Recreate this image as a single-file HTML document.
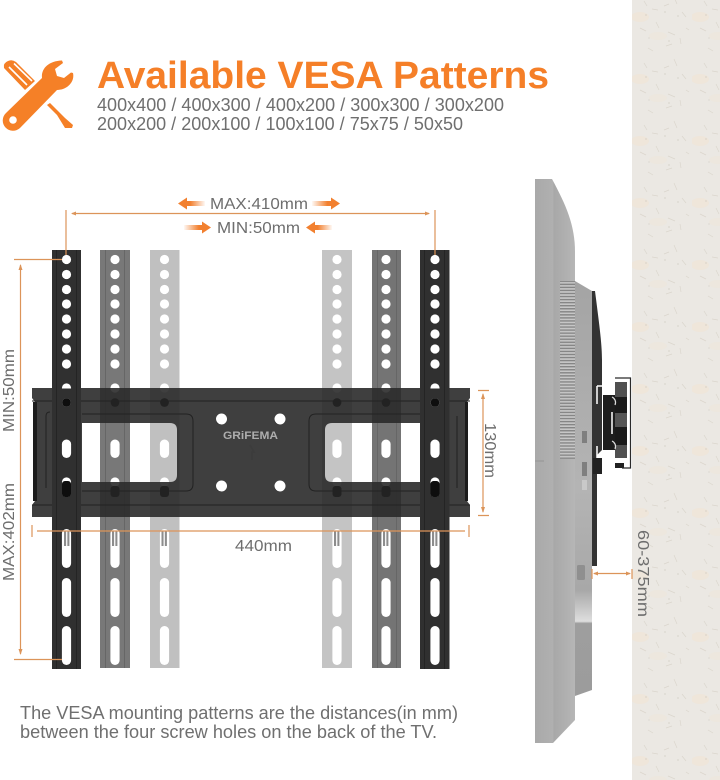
<!DOCTYPE html>
<html><head><meta charset="utf-8"><title>Available VESA Patterns</title>
<style>html,body{margin:0;padding:0;background:#fff}svg{display:block}text{font-family:"Liberation Sans",Arial,sans-serif}</style></head>
<body>
<svg width="720" height="780" viewBox="0 0 720 780" xmlns="http://www.w3.org/2000/svg">
<defs>
<pattern id="wall" width="60" height="62" patternUnits="userSpaceOnUse" x="632" y="180">
<rect width="60" height="62" fill="#ebe8e3"/>
<ellipse cx="8" cy="23" rx="9" ry="5" fill="#efe6da"/>
<ellipse cx="26" cy="42" rx="9" ry="4" fill="#ede7de"/>
<g stroke="#dbd6cd" stroke-width=".7" fill="none">
<path d="M12 7l3 5M20 15l6 1M32 12l5-2M42 3l3 7M50 18l4 5M8 34l6 3M24 28l3 6M36 38l7 3M48 44l1 6M16 54l5 3M34 52l6-2M54 34l3 2"/>
</g>
<g fill="#c9c4ba"><circle cx="14" cy="21" r=".6"/><circle cx="33" cy="18" r=".6"/><circle cx="46" cy="22" r=".6"/><circle cx="37" cy="47" r=".6"/><circle cx="17" cy="44" r=".5"/></g>
</pattern>
<linearGradient id="arL" x1="0" x2="1"><stop offset="0" stop-color="#f2802f"/><stop offset=".45" stop-color="#f2802f"/><stop offset="1" stop-color="#f2802f" stop-opacity=".05"/></linearGradient>
<linearGradient id="arR" x1="1" x2="0"><stop offset="0" stop-color="#f2802f"/><stop offset=".45" stop-color="#f2802f"/><stop offset="1" stop-color="#f2802f" stop-opacity=".05"/></linearGradient>
<linearGradient id="tvb" x1="0" x2="1"><stop offset="0" stop-color="#a9a9a9"/><stop offset=".45" stop-color="#b0b0b0"/><stop offset=".47" stop-color="#a8a8a8"/><stop offset="1" stop-color="#b6b6b6"/></linearGradient>
<linearGradient id="tvs" x1="0" x2="0" y1="0" y2="1"><stop offset="0" stop-color="#a4a4a4"/><stop offset=".5" stop-color="#b4b4b4"/><stop offset=".745" stop-color="#a8a8a8"/><stop offset=".82" stop-color="#dedede"/><stop offset=".825" stop-color="#9e9e9e"/><stop offset="1" stop-color="#9c9c9c"/></linearGradient>
<pattern id="vent" width="4" height="3.05" patternUnits="userSpaceOnUse"><rect width="4" height="3.05" fill="#c6c6c6"/><rect width="4" height="1.4" fill="#868686"/></pattern>
<g id="holes">
<circle cy="259.5" r="4.6"/><circle cy="274.5" r="4.6"/><circle cy="289.5" r="4.6"/><circle cy="304" r="4.6"/><circle cy="319" r="4.6"/><circle cy="334" r="4.6"/><circle cy="349" r="4.6"/><circle cy="364" r="4.6"/>
<circle cy="388" r="4.6"/><circle cy="402.5" r="4.4"/>
<rect x="-4.6" y="439.5" width="9.2" height="18.5" rx="4.6"/>
<circle cy="482" r="4.6"/><rect x="-4.4" y="486" width="8.8" height="11" rx="3"/>
<rect x="-4.6" y="529" width="9.2" height="39" rx="4.6"/>
<rect x="-4.6" y="578" width="9.2" height="39" rx="4.6"/>
<rect x="-4.6" y="626" width="9.2" height="39" rx="4.6"/>
</g>
<g id="screw"><rect x="-3" y="531" width="2" height="15" fill="#8d8d8d"/><rect x="-1" y="531" width="1.4" height="15" fill="#f4f4f4"/><rect x="0.4" y="531" width="2" height="15" fill="#8d8d8d"/></g>
</defs>

<rect width="720" height="780" fill="#fff"/>
<rect x="632" y="0" width="88" height="780" fill="url(#wall)"/>

<!-- tools icon -->
<g fill="#f58027">
<path d="M42 78 C41 69 48 61 62 60.500 L63 63 L55 69 L57 76 L64 78 L71 72.500 L73 73 C75 82 67 90 57 90 L20 128 A10 10 0 0 1 6 113 Z"/>
<path d="M4 68 Q3 63 8 61 Q12 59 16 62 L35 81 L25 90 Z"/>
<path d="M47 105 L50 103 L65 118 L73 125 L72 128 L65 128 L57 115 Z"/>
</g>
<circle cx="13" cy="120" r="3.800" fill="#fff"/>
<path d="M9 67 L27 85 M14 63.500 L32 81" stroke="#fff" stroke-width="1.600" fill="none"/>

<text x="97" y="88" font-size="38" font-weight="700" fill="#f57f28" textLength="452" lengthAdjust="spacingAndGlyphs">Available VESA Patterns</text>
<text x="97" y="111" font-size="18" fill="#6f6f6f" textLength="407">400x400 / 400x300 / 400x200 / 300x300 / 300x200</text>
<text x="97" y="130" font-size="18" fill="#6f6f6f" textLength="366">200x200 / 200x100 / 100x100 / 75x75 / 50x50</text>

<!-- back rails -->
<rect x="150" y="250" width="29.500" height="418" fill="#c0c0c0"/>
<rect x="322" y="250" width="30" height="418" fill="#c4c4c4"/>
<rect x="100" y="250" width="30" height="418" fill="#787878"/>
<rect x="372" y="250" width="29" height="418" fill="#747474"/>
<rect x="105" y="250" width="1" height="418" fill="#666"/><rect x="124" y="250" width="1" height="418" fill="#666"/>
<rect x="377" y="250" width="1" height="418" fill="#666"/><rect x="396" y="250" width="1" height="418" fill="#666"/>
<g fill="#fff"><use href="#holes" x="115"/><use href="#holes" x="164.500"/><use href="#holes" x="337"/><use href="#holes" x="386"/></g>
<use href="#screw" x="115"/><use href="#screw" x="164.500"/><use href="#screw" x="337"/><use href="#screw" x="386"/>

<!-- plate -->
<path fill-rule="evenodd" fill="#2a2a2a" fill-opacity=".9" d="M32 388 H470 V398 L467 402 V501 L470 505 V517 H32 V505 L35 501 V402 L32 398 Z M82 423 V482 H170 Q177 482 177 475 V430 Q177 423 170 423 Z M420 423 H332 Q325 423 325 430 V475 Q325 482 332 482 H420 Z"/>
<g fill="none" stroke="#222" stroke-width="1">
<path d="M32 401 H470 M32 505 H470"/>
<path d="M82 414 H186 Q193 414 193 421 V484 Q193 491 186 491 H82"/>
<path d="M420 414 H316 Q309 414 309 421 V484 Q309 491 316 491 H420"/>
<path d="M46 416 Q46 412 50 412 M46 416 V488"/>
<path d="M457 416 V488"/>
</g>
<rect x="33" y="402" width="4" height="99" fill="#1c1c1c"/><rect x="465" y="402" width="3" height="99" fill="#1c1c1c"/>
<g fill="#222"><circle cx="115" cy="402.500" r="4.400"/><circle cx="164.500" cy="402.500" r="4.400"/><circle cx="337" cy="402.500" r="4.400"/><circle cx="386" cy="402.500" r="4.400"/>
<rect x="110.500" y="486" width="9" height="11" rx="3"/><rect x="160" y="486" width="9" height="11" rx="3"/><rect x="332.500" y="486" width="9" height="11" rx="3"/><rect x="381.500" y="486" width="9" height="11" rx="3"/></g>

<!-- vesa holes -->
<g fill="#fff"><circle cx="221.500" cy="419" r="5.500"/><circle cx="280" cy="419" r="5.500"/><circle cx="221.500" cy="486" r="5.500"/><circle cx="280" cy="486" r="5.500"/></g>
<g fill="#111"><path d="M216 419 a5.500 5.500 0 0 0 5.500 5.500 a5 5 0 0 1 -5.500 -5.500z"/><path d="M274.500 419 a5.500 5.500 0 0 0 5.500 5.500 a5 5 0 0 1 -5.500 -5.500z"/><path d="M216 486 a5.500 5.500 0 0 0 5.500 5.500 a5 5 0 0 1 -5.500 -5.500z"/><path d="M274.500 486 a5.500 5.500 0 0 0 5.500 5.500 a5 5 0 0 1 -5.500 -5.500z"/></g>
<text x="223" y="439" font-size="11" font-weight="700" fill="#adadad" textLength="55" lengthAdjust="spacingAndGlyphs">GRiFEMA</text>
<path d="M250 445 L254 452 L252 452 L252 460" fill="none" stroke="#3c3c3c" stroke-width="1.500"/>

<!-- front rails -->
<rect x="52" y="250" width="29" height="419" fill="#303030"/>
<rect x="420" y="250" width="29.500" height="419" fill="#303030"/>
<rect x="56" y="250" width="1" height="419" fill="#242424"/><rect x="76" y="250" width="1" height="419" fill="#242424"/>
<rect x="424" y="250" width="1" height="419" fill="#242424"/><rect x="444" y="250" width="1" height="419" fill="#242424"/>
<g fill="#fff"><use href="#holes" x="66.500"/><use href="#holes" x="435"/></g>
<rect x="61" y="388.500" width="11" height="6" fill="#303030"/>
<rect x="429.500" y="388.500" width="11" height="6" fill="#303030"/>
<g fill="#0e0e0e"><circle cx="66.500" cy="402.500" r="4.400"/><circle cx="435" cy="402.500" r="4.400"/><rect x="62" y="481" width="9" height="16" rx="3"/><rect x="430.500" y="481" width="9" height="16" rx="3"/></g>
<use href="#screw" x="67"/><use href="#screw" x="435"/>

<!-- TV side -->
<path d="M575 281 L592 291 V690 L575 696 Z" fill="url(#tvs)"/>
<path d="M535 179 H552 C566 205 575 225 575 252 V720 L553 743 H535 Z" fill="url(#tvb)"/>
<rect x="535" y="460" width="9" height="2" fill="#a0a0a0"/>
<rect x="560" y="281" width="15" height="178" fill="url(#vent)"/>
<rect x="582" y="431" width="5" height="12" fill="#7f7f7f"/><rect x="582" y="462" width="5" height="14" fill="#7f7f7f"/><rect x="582" y="480" width="5" height="10" fill="#c9c9c9"/>
<rect x="577" y="565" width="8" height="15" rx="1.500" fill="#8f8f8f"/>
<!-- bracket -->
<path d="M592 291 H595 C600 330 602 345 602 360 V450 L597 455 V566 H592 Z" fill="#333"/>
<rect x="603" y="395" width="13" height="55" fill="#1d1d1d"/>
<path d="M597 386 H603 M597 386 V404 M597 446 V458 H603" fill="none" stroke="#fff" stroke-width="1.500"/>
<rect x="615" y="397" width="12" height="48" fill="#1a1a1a"/>
<rect x="615" y="382" width="12" height="15" fill="#505050"/>
<rect x="615" y="413" width="12" height="14" fill="#555"/>
<rect x="615" y="445" width="12" height="13" fill="#505050"/>
<rect x="615" y="463" width="9" height="5" fill="#222"/>
<path d="M615 378 H630.500 V468 H622" fill="none" stroke="#2a2a2a" stroke-width="1.200"/>
<path d="M612 412 V434" fill="none" stroke="#fff" stroke-width="1.500"/>
<rect x="593" y="458" width="9" height="16" fill="#222"/>
<path d="M612 397 a6 6 0 0 1 3 8 M612 441 a6 6 0 0 1 3 8" fill="none" stroke="#ddd" stroke-width="1.200"/>

<!-- dimensions -->
<g stroke="#dc9459" stroke-width="1.200" fill="none">
<path d="M66 210 V255 M435 210 V255 M72 213.500 H429"/>
<path d="M14 259.500 H62 M14 659.500 H62 M20.500 265 V654"/>
<path d="M32 525 V537 M37 531 H465 M469 525 V537"/>
<path d="M478 390.500 H489 M478 515.500 H489 M483 394 V512"/>
<path d="M592 569 V579 M632 569 V579 M594 573.500 H630"/>
</g>
<g fill="#dc9459">
<path d="M71 213.500 L76 211.500 V215.500 Z M430 213.500 L425 211.500 V215.500 Z"/>
<path d="M20.500 264 L18.500 270 H22.500 Z M20.500 655 L18.500 649 H22.500 Z"/>
<path d="M483 393 L481 399 H485 Z M483 513 L481 507 H485 Z"/>
<path d="M593 573.500 L598 571.500 V575.500 Z M631 573.500 L626 571.500 V575.500 Z"/>
</g>
<!-- gradient arrows -->
<path d="M178 203.500 L187 197.500 V201 H205 V206 H187 V209.500 Z" fill="url(#arL)"/>
<path d="M340 203.500 L331 197.500 V201 H312 V206 H331 V209.500 Z" fill="url(#arR)"/>
<path d="M211 227.500 L202 221.500 V225 H184 V230 H202 V233.500 Z" fill="url(#arR)"/>
<path d="M306 227.500 L315 221.500 V225 H332 V230 H315 V233.500 Z" fill="url(#arL)"/>

<g fill="#6e6e6e" font-size="16">
<text x="210" y="209" textLength="98" lengthAdjust="spacingAndGlyphs">MAX:410mm</text>
<text x="217" y="233" textLength="83" lengthAdjust="spacingAndGlyphs">MIN:50mm</text>
<text x="235" y="551" textLength="57" lengthAdjust="spacingAndGlyphs">440mm</text>
<text transform="translate(14,432) rotate(-90)" textLength="83" lengthAdjust="spacingAndGlyphs">MIN:50mm</text>
<text transform="translate(14,581) rotate(-90)" textLength="98" lengthAdjust="spacingAndGlyphs">MAX:402mm</text>
<text transform="translate(485,423) rotate(90)" textLength="55" lengthAdjust="spacingAndGlyphs">130mm</text>
<text transform="translate(638,530) rotate(90)" textLength="87" lengthAdjust="spacingAndGlyphs">60-375mm</text>
</g>
<text x="20" y="719" font-size="18" fill="#6f6f6f" textLength="438" lengthAdjust="spacingAndGlyphs">The VESA mounting patterns are the distances(in mm)</text>
<text x="20" y="738" font-size="18" fill="#6f6f6f" textLength="417" lengthAdjust="spacingAndGlyphs">between the four screw holes on the back of the TV.</text>
</svg>
</body></html>
